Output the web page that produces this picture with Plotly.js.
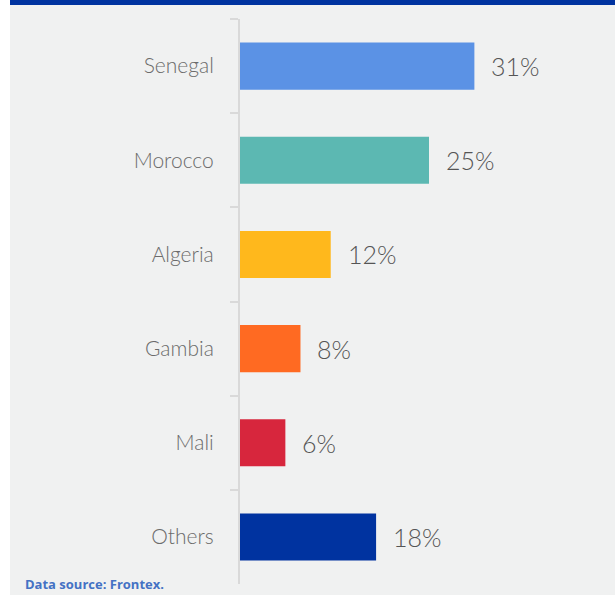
<!DOCTYPE html>
<html>
<head>
<meta charset="utf-8">
<script src="https://cdn.plot.ly/plotly-3.0.1.min.js"></script>
<style>
html,body{margin:0;padding:0;background:#ffffff;width:615px;height:595px;overflow:hidden;}
#wrap{position:absolute;left:10px;top:0;width:605px;height:595px;background:#f0f1f1;}
#bar{position:absolute;left:0;top:0;width:605px;height:5px;background:#0033a0;z-index:2;}
#chart{position:absolute;left:0;top:0;width:605px;height:595px;}
</style>
</head>
<body>
<div id="wrap"><div id="chart"></div><div id="bar"></div></div>
<script>
const countries = ["Senegal", "Morocco", "Algeria", "Gambia", "Mali", "Others"];
const shares = [31, 25, 12, 8, 6, 18];
const barColors = ["#5b92e5", "#5cb8b2", "#ffb81c", "#ff6a22", "#d7263d", "#0033a0"];
const sourceNote = "Data source: Frontex.";

const trace = {
  type: "bar",
  orientation: "h",
  y: countries,
  x: shares,
  marker: {color: barColors},
  hoverinfo: "skip"
};

const valueLabels = countries.map((c, i) => ({
  x: shares[i], y: c, xref: "x", yref: "y",
  text: shares[i] + "%", showarrow: false,
  xanchor: "left", yanchor: "middle", xshift: 15,
  font: {family: "Lato, 'Open Sans', sans-serif", size: 25, color: "#555555", weight: 300}
}));

const layout = {
  width: 605, height: 595,
  margin: {l: 230, r: 0, t: 19, b: 11},
  paper_bgcolor: "rgba(0,0,0,0)",
  plot_bgcolor: "rgba(0,0,0,0)",
  bargap: 0.5,
  showlegend: false,
  xaxis: {range: [0, 49.6], visible: false, showgrid: false, zeroline: false},
  yaxis: {
    autorange: "reversed",
    showline: true, linecolor: "#d9d9d9", linewidth: 2,
    ticks: "outside", tickson: "boundaries", ticklen: 8, tickwidth: 2, tickcolor: "#d9d9d9",
    ticklabelstandoff: 20,
    showgrid: false, zeroline: false,
    tickfont: {family: "Lato, 'Open Sans', sans-serif", size: 21, color: "#6b6b6b", weight: 300}
  },
  annotations: valueLabels.concat([{
    xref: "paper", yref: "paper", x: -0.578, y: 0.0,
    xanchor: "left", yanchor: "middle", showarrow: false,
    text: "<b>" + sourceNote + "</b>",
    font: {family: "'Open Sans', sans-serif", size: 13, color: "#4472c4"}
  }])
};

Plotly.newPlot("chart", [trace], layout, {displayModeBar: false, staticPlot: true});
</script>
</body>
</html>
